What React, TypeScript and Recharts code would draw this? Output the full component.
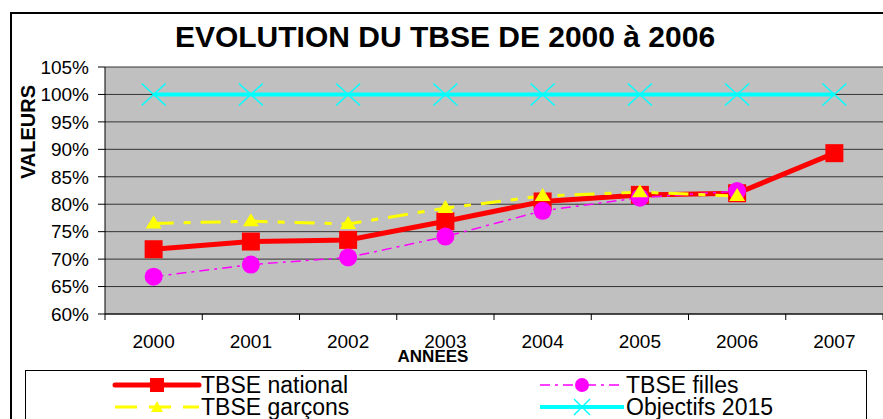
import React from 'react';
import { LineChart, Line, XAxis, YAxis, CartesianGrid } from 'recharts';

const years = ['2000', '2001', '2002', '2003', '2004', '2005', '2006', '2007'];
const national = [71.8, 73.2, 73.5, 76.9, 80.5, 81.7, 82.0, 89.3];
const filles = [66.8, 69.0, 70.3, 74.1, 78.8, 81.2, 82.4, null];
const garcons = [76.5, 76.9, 76.4, 79.3, 81.5, 82.2, 81.5, null];
const objectifs = [100, 100, 100, 100, 100, 100, 100, 100];
const yTicks = [60, 65, 70, 75, 80, 85, 90, 95, 100, 105];

const data = years.map((y, i) => ({
  year: y,
  national: national[i],
  filles: filles[i],
  garcons: garcons[i],
  objectifs: objectifs[i],
}));

const FONT = '"Liberation Sans", Arial, sans-serif';

const SquareDot = (props: any) => {
  const { cx, cy, index } = props;
  if (cx == null || cy == null) return <g key={`s${index}`} />;
  return <rect key={`s${index}`} x={cx - 9} y={cy - 9} width={18} height={18} fill="#FF0000" />;
};
const CircleDot = (props: any) => {
  const { cx, cy, index, value } = props;
  if (cx == null || cy == null || value == null) return <g key={`c${index}`} />;
  return <circle key={`c${index}`} cx={cx} cy={cy} r={9} fill="#FF00FF" />;
};
const TriDot = (props: any) => {
  const { cx, cy, index, value } = props;
  if (cx == null || cy == null || value == null) return <g key={`t${index}`} />;
  return (
    <polygon
      key={`t${index}`}
      points={`${cx},${cy - 8} ${cx + 8},${cy + 5} ${cx - 8},${cy + 5}`}
      fill="#FFFF00"
    />
  );
};
const XDot = (props: any) => {
  const { cx, cy, index } = props;
  if (cx == null || cy == null) return <g key={`x${index}`} />;
  return (
    <g key={`x${index}`}>
      <line x1={cx - 12} y1={cy - 11} x2={cx + 12} y2={cy + 11} stroke="#00FFFF" strokeWidth={1.5} />
      <line x1={cx - 12} y1={cy + 11} x2={cx + 12} y2={cy - 11} stroke="#00FFFF" strokeWidth={1.5} />
    </g>
  );
};

const XTick = (props: any) => {
  const { x, y, payload, index } = props;
  const bw = props.width ? props.width / years.length : 97.25;
  return (
    <g>
      <line x1={x - bw / 2} x2={x - bw / 2} y1={y} y2={y + 6} stroke="#000" />
      {index === years.length - 1 && (
        <line x1={x + bw / 2} x2={x + bw / 2} y1={y} y2={y + 6} stroke="#000" />
      )}
      <text x={x} y={y + 34} textAnchor="middle" fontSize={19} fontFamily={FONT} fill="#000">
        {payload.value}
      </text>
    </g>
  );
};

const legendItems = [
  { label: 'TBSE national', color: '#FF0000', col: 0, row: 0, kind: 'square', dash: undefined, w: 5 },
  { label: 'TBSE  filles', color: '#FF00FF', col: 1, row: 0, kind: 'circle', dash: '10 5 3 5', w: 1.5 },
  { label: 'TBSE garçons', color: '#FFFF00', col: 0, row: 1, kind: 'tri', dash: '22 12', w: 3 },
  { label: 'Objectifs 2015', color: '#00FFFF', col: 1, row: 1, kind: 'x', dash: undefined, w: 4 },
];

const LegendBox = () => (
  <svg width={842} height={50} style={{ display: 'block' }}>
    <rect x={0.5} y={0.5} width={841} height={70} fill="#fff" stroke="#000" strokeWidth={1} />
    {legendItems.map((it) => {
      const x0 = it.col === 0 ? 90 : 515;
      const cy = it.row === 0 ? 15 : 37;
      const mx = x0 + 42;
      return (
        <g key={it.label}>
          <line x1={x0} x2={x0 + 84} y1={cy} y2={cy} stroke={it.color} strokeWidth={it.w} strokeDasharray={it.dash} strokeLinecap={it.kind === 'square' ? 'round' : 'butt'} />
          {it.kind === 'square' && <rect x={mx - 7} y={cy - 7} width={14} height={14} fill={it.color} />}
          {it.kind === 'circle' && <circle cx={mx} cy={cy} r={7} fill={it.color} />}
          {it.kind === 'tri' && <polygon points={`${mx},${cy - 6} ${mx + 6},${cy + 5} ${mx - 6},${cy + 5}`} fill={it.color} />}
          {it.kind === 'x' && (
            <g>
              <line x1={mx - 8} y1={cy - 8} x2={mx + 8} y2={cy + 8} stroke={it.color} strokeWidth={1.5} />
              <line x1={mx - 8} y1={cy + 8} x2={mx + 8} y2={cy - 8} stroke={it.color} strokeWidth={1.5} />
            </g>
          )}
          <text x={x0 + 86} y={cy + 8} fontSize={23} fontFamily={FONT} fill="#000">
            {it.label}
          </text>
        </g>
      );
    })}
  </svg>
);

export default function App() {
  return (
    <div style={{ position: 'absolute', left: 0, top: 0, width: 883, height: 419, background: '#fff', overflow: 'hidden' }}>
      <div
        style={{
          position: 'absolute',
          left: 10,
          top: 12,
          width: 900,
          height: 420,
          borderLeft: '2px solid #000',
          borderTop: '2px solid #000',
        }}
      />
      <div
        style={{
          position: 'absolute',
          left: 0,
          width: 890,
          top: 19,
          textAlign: 'center',
          fontFamily: FONT,
          fontWeight: 'bold',
          fontSize: 30,
          lineHeight: '36px',
          color: '#000',
        }}
      >
        EVOLUTION DU TBSE DE 2000 à 2006
      </div>
      <div style={{ position: 'absolute', left: 0, top: 0 }}>
        <LineChart
          width={883}
          height={419}
          data={data}
          margin={{ top: 67, right: 0, bottom: 75, left: 45 }}
        >
          <CartesianGrid fill="#C0C0C0" stroke="#333" vertical={false} horizontalValues={yTicks} />
          <XAxis
            dataKey="year"
            scale="band"
            height={30}
            tickSize={0}
            tickMargin={0}
            tick={<XTick />}
            axisLine={{ stroke: '#000' }}
            interval={0}
            label={{
              content: () => (
                <text x={433} y={362} textAnchor="middle" fontSize={17} fontWeight="bold" fontFamily={FONT} fill="#000">
                  ANNEES
                </text>
              ),
            }}
          />
          <YAxis
            domain={[60, 105]}
            ticks={yTicks}
            width={60}
            tickSize={7}
            tickMargin={9}
            tickFormatter={(v: number) => `${v}%`}
            tick={{ fontSize: 19, fontFamily: FONT, fill: '#000' }}
            axisLine={{ stroke: '#000' }}
            tickLine={{ stroke: '#000' }}
            interval={0}
            label={{
              content: () => (
                <text
                  x={35}
                  y={132}
                  transform="rotate(-90 35 132)"
                  textAnchor="middle"
                  fontSize={20}
                  fontWeight="bold"
                  fontFamily={FONT}
                  fill="#000"
                >
                  VALEURS
                </text>
              ),
            }}
          />
          <Line dataKey="national" stroke="#FF0000" strokeWidth={5} dot={<SquareDot />} isAnimationActive={false} />
          <Line dataKey="filles" stroke="#FF00FF" strokeWidth={1.5} strokeDasharray="10 5 3 5" dot={<CircleDot />} isAnimationActive={false} />
          <Line dataKey="garcons" stroke="#FFFF00" strokeWidth={3} strokeDasharray="20 10 7 10" dot={<TriDot />} isAnimationActive={false} />
          <Line dataKey="objectifs" stroke="#00FFFF" strokeWidth={4} dot={<XDot />} isAnimationActive={false} />
        </LineChart>
      </div>
      <div style={{ position: 'absolute', left: 25, top: 370 }}>
        <LegendBox />
      </div>
    </div>
  );
}
